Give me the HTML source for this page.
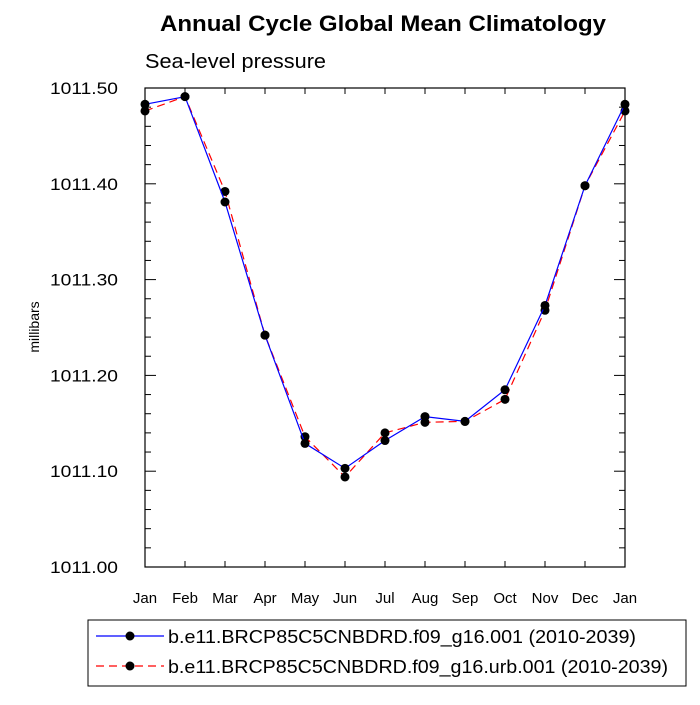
<!DOCTYPE html>
<html><head><meta charset="utf-8"><style>
body{margin:0;background:#fff;font-family:"Liberation Sans",sans-serif}
</style></head><body>
<svg width="700" height="700" xmlns="http://www.w3.org/2000/svg" font-family="Liberation Sans, sans-serif">
<text x="160" y="31" textLength="446" lengthAdjust="spacingAndGlyphs" font-size="22" font-weight="bold">Annual Cycle Global Mean Climatology</text>
<text x="145" y="68" textLength="181" lengthAdjust="spacingAndGlyphs" font-size="20">Sea-level pressure</text>
<text transform="translate(39,327) rotate(-90)" text-anchor="middle" font-size="14">millibars</text>
<rect x="145" y="88" width="480" height="479" fill="none" stroke="#000" stroke-width="1.2"/>
<g id="axes"></g>
<g id="series"></g>
<g>
<rect x="88" y="620" width="598" height="66" fill="none" stroke="#000" stroke-width="1"/>
<line x1="96" y1="636" x2="164" y2="636" stroke="#0000ff" stroke-width="1.2"/>
<circle cx="130" cy="636" r="4.5" fill="#000"/>
<text x="168" y="643" font-size="18.5" textLength="468" lengthAdjust="spacingAndGlyphs">b.e11.BRCP85C5CNBDRD.f09_g16.001 (2010-2039)</text>
<line x1="96" y1="666" x2="164" y2="666" stroke="#ff0000" stroke-width="1.2" stroke-dasharray="8,5"/>
<circle cx="130" cy="666" r="4.5" fill="#000"/>
<text x="168" y="673" font-size="18.5" textLength="500" lengthAdjust="spacingAndGlyphs">b.e11.BRCP85C5CNBDRD.f09_g16.urb.001 (2010-2039)</text>
</g>
</svg>
<script>
const months=["Jan","Feb","Mar","Apr","May","Jun","Jul","Aug","Sep","Oct","Nov","Dec","Jan"];
const baseValues=[1011.483,1011.491,1011.381,1011.242,1011.129,1011.103,1011.132,1011.157,1011.152,1011.185,1011.273,1011.398,1011.483];
const urbValues=[1011.476,1011.491,1011.392,1011.242,1011.136,1011.094,1011.140,1011.151,1011.152,1011.175,1011.268,1011.398,1011.476];
const yTicks=[1011.0,1011.1,1011.2,1011.3,1011.4,1011.5];
const yTickLabels=["1011.00","1011.10","1011.20","1011.30","1011.40","1011.50"];
const NS="http://www.w3.org/2000/svg";
const X0=145,X1=625,Y0=567,Y1=88,YMIN=1011.0,YMAX=1011.5;
const xs=i=>X0+(X1-X0)*i/(months.length-1);
const ys=v=>Y0-(v-YMIN)/(YMAX-YMIN)*(Y0-Y1);
function mk(tag,attrs,parent){const e=document.createElementNS(NS,tag);for(const k in attrs)e.setAttribute(k,attrs[k]);parent.appendChild(e);return e;}
const ax=document.getElementById('axes');
months.forEach((m,i)=>{
  const x=xs(i);
  const t1=mk('line',{x1:x,y1:Y0,x2:x,y2:Y0-6,stroke:'#000'},ax);
  
  
  mk('line',{x1:x,y1:Y1,x2:x,y2:Y1+6,stroke:'#000'},ax);
  const t=mk('text',{x:x,y:Y0+36,'text-anchor':'middle','font-size':15},ax);
  t.textContent=m;
  
  
});
yTicks.forEach((v,i)=>{
  const y=ys(v);
  mk('line',{x1:X0,y1:y,x2:X0+11,y2:y,stroke:'#000'},ax);
  mk('line',{x1:X1,y1:y,x2:X1-11,y2:y,stroke:'#000'},ax);
  const t=mk('text',{x:50,y:y+6,'font-size':17,textLength:68,lengthAdjust:'spacingAndGlyphs'},ax);
  t.textContent=yTickLabels[i];
  
  
  if(i<yTicks.length-1){for(let k=1;k<5;k++){const yy=ys(v+0.02*k);
    mk('line',{x1:X0,y1:yy,x2:X0+6,y2:yy,stroke:'#000'},ax);
    mk('line',{x1:X1,y1:yy,x2:X1-6,y2:yy,stroke:'#000'},ax);}}
});
const sg=document.getElementById('series');
function series(vals,color,dash,name){
  const pts=vals.map((v,i)=>xs(i)+','+ys(v)).join(' ');
  const pl=mk('polyline',{points:pts,fill:'none',stroke:color,'stroke-width':1.2},sg);
  if(dash)pl.setAttribute('stroke-dasharray',dash);
  
  
  vals.forEach((v,i)=>{
    const c=mk('circle',{cx:xs(i),cy:ys(v),r:4.5,fill:'#000'},sg);
    
    
  });
}
series(urbValues,'#ff0000','8,5','urb-series');
series(baseValues,'#0000ff',null,'base-series');
</script>
</body></html>
